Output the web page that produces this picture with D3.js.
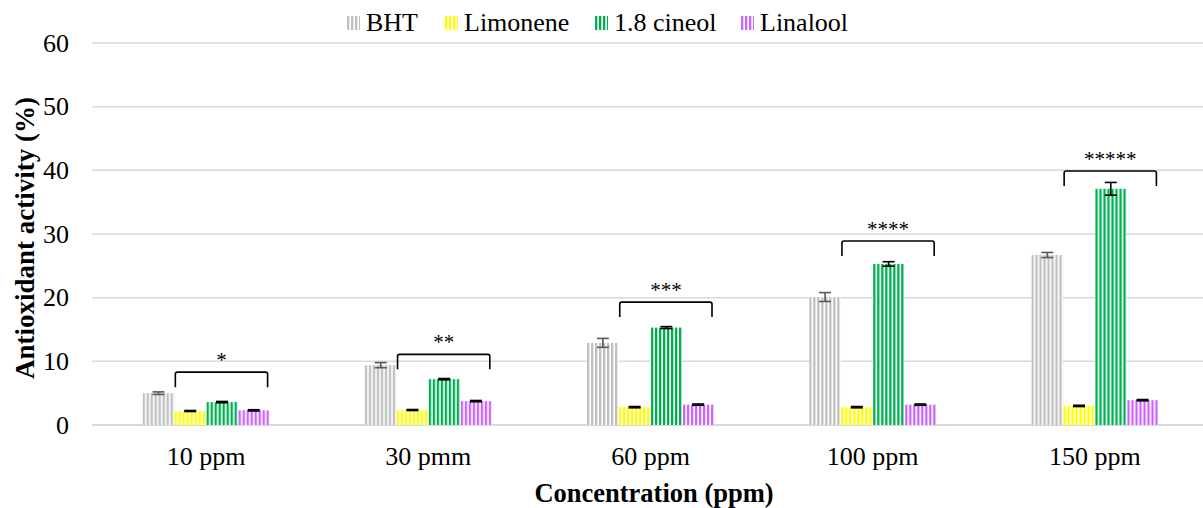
<!DOCTYPE html>
<html><head><meta charset="utf-8"><script src="https://cdn.jsdelivr.net/npm/d3@7"></script></head>
<body style="margin:0">
<script>
// data
var categories = ["10 ppm", "30 pmm", "60 ppm", "100 ppm", "150 ppm"];
var seriesNames = ["BHT", "Limonene", "1.8 cineol", "Linalool"];
var bht      = [5.0, 9.4, 12.9, 20.1, 26.7];
var limonene = [2.2, 2.35, 2.8, 2.8, 3.0];
var cineol   = [3.6, 7.2, 15.3, 25.3, 37.1];
var linalool = [2.3, 3.75, 3.2, 3.2, 3.9];
var bhtErr      = [0.2, 0.4, 0.7, 0.7, 0.4];
var limoneneErr = [0.08, 0.08, 0.1, 0.1, 0.1];
var cineolErr   = [0.1, 0.1, 0.15, 0.35, 1.0];
var linaloolErr = [0.1, 0.1, 0.1, 0.1, 0.1];
var stars = ["*", "**", "***", "****", "*****"];
var bracketLevel = [8.3, 11.1, 19.3, 28.9, 39.9];
var yTicks = [0, 10, 20, 30, 40, 50, 60];

var colors = ["#c0c0c0", "#ffff00", "#00b050", "#cc66ff"];
var errColors = ["#595959", "#000", "#000", "#000"];
var fontName = "'Liberation Serif'";

var values = [bht, limonene, cineol, linalool];
var errs = [bhtErr, limoneneErr, cineolErr, linaloolErr];

var width = 1203, height = 508;
var margin = {left: 92, right: 0, top: 43, bottom: 83};

var svg = d3.select("body").append("svg")
    .attr("width", width).attr("height", height)
    .attr("font-family", "Liberation Serif");

// striped fills
var defs = svg.append("defs");
colors.forEach(function(c, i){
    var p = defs.append("pattern")
        .attr("id", "stripe" + i)
        .attr("patternUnits", "userSpaceOnUse")
        .attr("width", 4).attr("height", 4);
    p.append("rect").attr("width", 4).attr("height", 4).attr("fill", "#fff");
    p.append("rect").attr("x", 0).attr("width", 2).attr("height", 4).attr("fill", c);
    p.append("rect").attr("x", 2).attr("width", 1).attr("height", 4).attr("fill", c).attr("opacity", 0.35);
});

var x0 = d3.scaleBand().domain(categories)
    .range([margin.left, width - margin.right]);
var x1 = d3.scaleBand().domain(seriesNames)
    .range([0, 127]);
var groupOffset = (x0.bandwidth() - 127) / 2 + 3;

var y = d3.scaleLinear().domain([0, 60])
    .range([height - margin.bottom, margin.top]);

// gridlines
svg.append("g").selectAll("line")
    .data(yTicks)
    .enter()
    .append("line")
    .attr("x1", margin.left)
    .attr("x2", width - margin.right)
    .attr("y1", function(d){ return y(d); })
    .attr("y2", function(d){ return y(d); })
    .attr("stroke", "#d9d9d9")
    .attr("stroke-width", function(d){ return d === 0 ? 2 : 1.5; });

// y axis labels
var yAxis = d3.axisLeft(y).tickValues(yTicks).tickSize(0).tickPadding(23);
var yg = svg.append("g").attr("transform", "translate(" + margin.left + ",0)").call(yAxis);
yg.attr("font-family", "Liberation Serif");
yg.select(".domain").remove();
yg.selectAll("text").attr("font-size", 26).attr("fill", "#000")
    .style("font-family", fontName);

// x axis labels
var xAxis = d3.axisBottom(x0).tickSize(0).tickPadding(22);
var xg = svg.append("g").attr("transform", "translate(3," + y(0) + ")").call(xAxis);
xg.attr("font-family", "Liberation Serif");
xg.select(".domain").remove();
xg.selectAll("text").attr("font-size", 26).attr("fill", "#000")
    .style("font-family", fontName);

// bars
var groups = svg.append("g").selectAll("g")
    .data(categories)
    .enter()
    .append("g")
    .attr("transform", function(d){ return "translate(" + (x0(d) + groupOffset) + ",0)"; });

groups.each(function(cat, ci){
    var g = d3.select(this);
    seriesNames.forEach(function(s, si){
        var v = values[si][ci];
        var e = errs[si][ci];
        var bx = x1(s);
        var bw = x1.bandwidth();
        g.append("rect")
            .attr("x", bx)
            .attr("y", y(v))
            .attr("width", bw)
            .attr("height", y(0) - y(v))
            .attr("fill", "url(#stripe" + si + ")");
        var cx = bx + bw / 2;
        var eg = g.append("g").attr("stroke", errColors[si]).attr("stroke-width", 1.6);
        eg.append("line").attr("x1", cx).attr("x2", cx).attr("y1", y(v - e)).attr("y2", y(v + e));
        eg.append("line").attr("x1", cx - 6).attr("x2", cx + 6).attr("y1", y(v - e)).attr("y2", y(v - e));
        eg.append("line").attr("x1", cx - 6).attr("x2", cx + 6).attr("y1", y(v + e)).attr("y2", y(v + e));
    });

    // significance bracket
    var bl = x1("Limonene") + 1;
    var br = x1("Linalool") + x1.bandwidth() - 2;
    var by = y(bracketLevel[ci]);
    g.append("path")
        .attr("d", "M" + bl + "," + (by + 15) + " L" + bl + "," + (by + 2) +
              " Q" + bl + "," + by + " " + (bl + 2) + "," + by +
              " L" + (br - 2) + "," + by +
              " Q" + br + "," + by + " " + br + "," + (by + 2) +
              " L" + br + "," + (by + 15))
        .attr("fill", "none")
        .attr("stroke", "#000")
        .attr("stroke-width", 1.6);
    g.append("text")
        .attr("x", (bl + br) / 2)
        .attr("y", by - 5)
        .attr("text-anchor", "middle")
        .attr("font-size", 21)
        .style("font-family", fontName)
        .text(stars[ci]);
});

// axis titles
svg.append("text")
    .attr("transform", "translate(34,238) rotate(-90)")
    .attr("text-anchor", "middle")
    .attr("font-size", 27)
    .attr("font-weight", "bold")
    .style("font-family", fontName)
    .text("Antioxidant activity (%)");

svg.append("text")
    .attr("x", 654)
    .attr("y", 502)
    .attr("text-anchor", "middle")
    .attr("font-size", 26.5)
    .attr("font-weight", "bold")
    .style("font-family", fontName)
    .text("Concentration (ppm)");

// legend
var legendX = [347, 445, 595, 741];
var legend = svg.append("g").selectAll("g")
    .data(seriesNames)
    .enter()
    .append("g")
    .attr("transform", function(d, i){ return "translate(" + legendX[i] + ",0)"; });
legend.append("rect")
    .attr("y", 16)
    .attr("width", 13).attr("height", 14)
    .attr("fill", function(d, i){ return "url(#stripe" + i + ")"; });
legend.append("text")
    .attr("x", 19).attr("y", 31)
    .attr("font-size", 26)
    .style("font-family", fontName)
    .text(function(d){ return d; });
</script>
</body>
</html>
